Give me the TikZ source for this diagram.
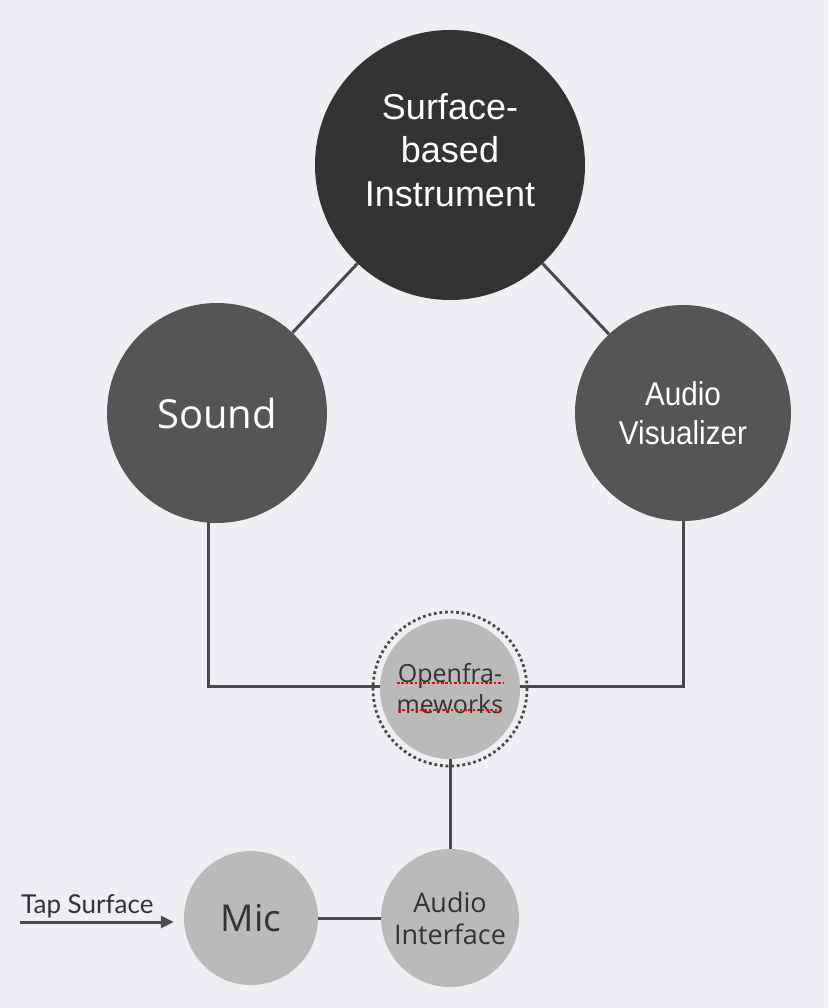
\documentclass[tikz,border=0pt]{standalone}
\usepackage{fontspec}
\usetikzlibrary{arrows.meta,calc}
\newfontfamily\helv{Liberation Sans}
\newfontfamily\helvn[FakeStretch=0.9]{Liberation Sans}
\newfontfamily\osans{Open Sans}
\newfontfamily\latof{Lato}
\definecolor{bgc}{HTML}{EDEFF3}
\definecolor{dark}{HTML}{333333}
\definecolor{mid}{HTML}{555555}
\definecolor{light}{HTML}{BABABA}
\definecolor{linec}{HTML}{4A4A4A}
\pgfdeclarelayer{back}
\pgfdeclarelayer{bg}
\pgfsetlayers{back,bg,main}
\tikzset{
  bubble/.style={circle, inner sep=0pt, align=center},
  topbub/.style={bubble, fill=dark, minimum size=270pt},
  toptext/.style={align=center, inner sep=0pt, text=white,
     font=\helv\fontsize{36}{43.5}\selectfont},
  midbub/.style={bubble, fill=mid, text=white},
  lowbub/.style={bubble, fill=light, text=dark},
  conn/.style={draw=linec, line width=3pt},
  spell/.style={red, line width=2.6pt, dash pattern=on 2.6pt off 1.8pt},
}
\begin{document}
\begin{tikzpicture}[x=1pt,y=-1pt]
\begin{pgfonlayer}{back}
\fill[bgc] (0,0) rectangle (828,1008);
\end{pgfonlayer}
\useasboundingbox (0,0) rectangle (828,1008);

\node[topbub] (top) at (450,165) {};
\node[toptext] (toplbl) at ($(top.center)+(0,-15)$) {Surface-\\based\\Instrument};
\node[midbub, minimum size=220pt, font=\osans\fontsize{40}{48}\selectfont] (sound) at (217,413) {Sound};
\node[midbub, minimum size=216pt, font=\helvn\fontsize{33}{39}\selectfont] (vis) at (683,413) {Audio\\Visualizer};
\node[lowbub, minimum size=140pt, font=\osans\fontsize{25}{28}\selectfont] (of) at (450,689) {\raisebox{3pt}{Openfra-}\\meworks};
\node[circle, draw=linec, line width=2.8pt, dash pattern=on 2.8pt off 2.8pt, minimum size=154pt, inner sep=0pt] (ring) at (of.center) {};
\node[lowbub, minimum size=134pt, font=\osans\fontsize{37}{40}\selectfont] (mic) at (251,918) {Mic};
\node[lowbub, minimum size=138pt, font=\osans\fontsize{27}{32}\selectfont] (ai) at (450,918) {Audio\\Interface};

% red dotted spell-check underlines
\draw[spell] ($(of.center)+(-53,-6)$) -- ($(of.center)+(53,-6)$);
\draw[spell] ($(of.center)+(-52,21)$) -- ($(of.center)+(52,21)$);

\begin{pgfonlayer}{bg}
\draw[conn] (top) -- (sound);
\draw[conn] (top) -- (vis);
\draw[conn] ($(sound.center)+(-9,0)$) |- ($(of.center)+(0,-3)$);
\draw[conn] (vis.center) |- ($(of.center)+(0,-3)$);
\draw[conn] (of) -- (ai);
\draw[conn] (mic) -- (ai);
\end{pgfonlayer}

\coordinate (tapstart) at (20,922);
\draw[draw=linec, line width=3pt, -{Triangle[length=13pt,width=12pt]}] (tapstart) -- ([xshift=-10pt]tapstart -| mic.west);
\node[anchor=base west, inner sep=0pt, text=dark, font=\latof\fontsize{26}{28}\selectfont] (taplbl) at (21,913) {Tap Surface};
\end{tikzpicture}
\end{document}
